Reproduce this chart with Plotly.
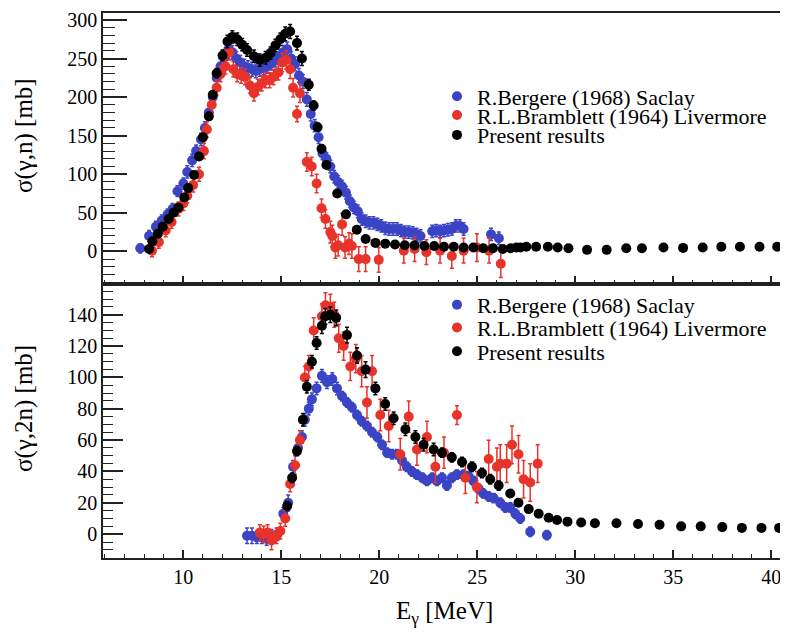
import plotly.graph_objects as go

# ---------------- data (E [MeV], sigma [mb], error [mb]) ----------------
top_bergere = [
    (7.8, 4, 6), (8.25, 20, 7), (8.6, 32, 7), (8.9, 40, 7), (9.2, 48, 7), (9.45, 55, 7),
    (9.7, 78, 7), (10.0, 88, 7), (10.2, 103, 8), (10.45, 118, 8), (10.65, 130, 8),
    (10.9, 145, 8), (11.1, 160, 8), (11.3, 180, 8), (11.5, 200, 8), (11.7, 225, 9),
    (11.9, 240, 9), (12.1, 252, 9), (12.3, 262, 9), (12.5, 258, 9), (12.7, 250, 9),
    (12.9, 245, 9), (13.1, 240, 9), (13.3, 238, 9), (13.5, 236, 9), (13.7, 234, 9),
    (13.9, 236, 9), (14.1, 238, 9), (14.3, 240, 9), (14.5, 244, 9), (14.7, 248, 9),
    (14.9, 253, 9), (15.1, 258, 9), (15.3, 262, 9), (15.5, 250, 9), (15.7, 243, 9),
    (15.9, 228, 9), (16.1, 220, 9), (16.3, 197, 9), (16.5, 178, 9), (16.7, 163, 8),
    (16.9, 148, 8), (17.1, 127, 8), (17.3, 120, 8), (17.5, 110, 8), (17.7, 97, 8),
    (17.9, 90, 8), (18.1, 84, 8), (18.3, 76, 8), (18.5, 65, 8), (18.7, 57, 8),
    (18.9, 52, 8), (19.1, 42, 8), (19.3, 39, 8), (19.5, 37, 8), (19.7, 37, 8),
    (19.9, 35, 8), (20.1, 33, 8), (20.3, 30, 8), (20.5, 29, 8), (20.7, 29, 8),
    (20.9, 29, 8), (21.1, 27, 8), (21.3, 25, 8), (21.5, 25, 8), (21.7, 24, 8),
    (21.9, 22, 8), (22.1, 20, 8), (22.7, 26, 8), (22.9, 27, 8), (23.1, 26, 8),
    (23.3, 27, 8), (23.5, 28, 8), (23.7, 29, 8), (23.9, 33, 8), (24.1, 33, 8),
    (24.3, 29, 8), (25.7, 22, 8), (26.1, 17, 8),
]

top_bramblett = [
    (8.4, 1, 8), (8.75, 12, 8), (9.1, 27, 8), (9.4, 38, 8), (9.75, 55, 9), (10.0, 62, 9),
    (10.2, 72, 9), (10.5, 86, 9), (10.8, 100, 9), (11.05, 130, 10), (11.2, 158, 10),
    (11.45, 190, 10), (11.7, 212, 10), (11.9, 230, 10), (12.15, 240, 10), (12.35, 258, 10),
    (12.55, 236, 10), (12.75, 230, 10), (12.95, 228, 10), (13.15, 226, 10), (13.4, 215, 10),
    (13.6, 205, 10), (13.8, 213, 10), (14.0, 218, 10), (14.2, 222, 10), (14.4, 222, 10),
    (14.6, 226, 10), (14.85, 232, 10), (15.05, 245, 12), (15.25, 248, 12), (15.45, 236, 12),
    (15.6, 212, 12), (15.8, 178, 10), (15.95, 205, 12), (16.3, 116, 12), (16.55, 110, 12),
    (16.8, 88, 12), (17.05, 56, 12), (17.25, 42, 12), (17.5, 25, 14), (17.6, 20, 14),
    (17.76, 5, 14), (17.9, 8, 14), (18.1, 35, 14), (18.25, 5, 14), (18.45, 10, 14),
    (18.6, 7, 16), (18.95, -10, 16), (19.3, -10, 16), (19.97, -11, 16), (21.25, 1, 16),
    (21.8, 3, 16), (22.4, -1, 16), (23.1, 1, 16), (23.7, -6, 16), (24.3, 1, 16),
    (24.98, 5, 18), (25.6, 1, 16), (26.2, -16, 18),
]

top_present = [
    (8.25, 3, 3), (8.42, 13, 3), (8.7, 23, 3), (8.95, 32, 3), (9.25, 42, 3), (9.5, 50, 3),
    (9.75, 57, 3), (10.05, 70, 4), (10.25, 82, 4), (10.55, 99, 4), (10.8, 123, 4),
    (11.0, 148, 5), (11.3, 175, 5), (11.5, 203, 5), (11.7, 231, 6), (12.0, 254, 7),
    (12.25, 272, 8), (12.5, 278, 8), (12.75, 275, 8), (13.0, 268, 8), (13.25, 261, 8),
    (13.6, 253, 8), (13.9, 248, 8), (14.2, 251, 8), (14.45, 257, 8), (14.7, 267, 8),
    (14.95, 275, 8), (15.2, 282, 9), (15.45, 285, 9), (15.8, 270, 9), (16.05, 250, 9),
    (16.4, 216, 7), (16.65, 189, 6), (16.85, 161, 5), (17.05, 133, 5), (17.3, 112, 4),
    (17.85, 75, 4), (18.3, 48, 3), (18.85, 28, 3), (19.3, 16, 2), (19.8, 11, 2),
    (20.3, 10, 2), (20.8, 9, 2), (21.3, 8, 2), (21.8, 8, 2), (22.3, 7, 2), (22.8, 7, 2),
    (23.3, 6, 2), (23.8, 6, 2), (24.3, 5, 2), (24.8, 5, 2), (25.3, 4, 2), (25.8, 4, 2),
    (26.3, 3, 2), (26.7, 4, 2), (27.0, 5, 2), (27.2, 5, 2), (27.5, 6, 2), (28.0, 6, 2),
    (28.6, 6, 2), (29.1, 5, 2), (29.65, 4, 2), (30.6, 2, 1), (31.6, 2, 1), (32.6, 4, 1),
    (33.4, 4, 1), (34.5, 5, 1), (35.5, 4.5, 1), (36.5, 5, 1), (37.45, 6, 1), (38.4, 6, 1),
    (39.4, 6, 1), (40.3, 6, 1),
]

bot_bergere = [
    (13.25, -1, 5), (13.5, -1, 5), (13.75, -2, 4), (14.0, -2, 4), (14.25, -3, 4), (14.5, -1, 4),
    (14.8, 0, 4), (15.1, 13, 4), (15.35, 20, 5), (15.6, 43, 4), (15.85, 55, 4), (16.05, 62, 4),
    (16.2, 73, 4), (16.4, 80, 4), (16.56, 86, 4), (16.8, 93, 4), (17.07, 101, 4), (17.33, 97, 4),
    (17.6, 99, 4), (17.84, 93, 4), (18.1, 88, 3), (18.35, 84, 3), (18.6, 81, 3), (18.86, 76, 3),
    (19.1, 72, 3), (19.37, 69, 3), (19.63, 65, 3), (19.9, 62, 3), (20.14, 57, 3), (20.4, 52, 3),
    (20.65, 51, 3), (20.9, 51, 3), (21.16, 47, 3), (21.4, 43, 3), (21.67, 40, 3), (21.92, 38, 3),
    (22.2, 36, 3), (22.43, 34, 3), (22.7, 36, 3), (22.94, 34, 3), (23.2, 36, 3), (23.45, 31, 3),
    (23.7, 36, 3), (23.96, 38, 3), (24.3, 38, 3), (24.56, 37, 3), (24.8, 34, 3), (25.07, 29, 3),
    (25.3, 26, 3), (25.58, 24, 3), (25.83, 23, 3), (26.17, 20, 3), (26.43, 17, 3), (26.68, 17, 3),
    (26.94, 13, 3), (27.19, 10, 3), (27.7, 1.5, 3), (28.55, -0.6, 3),
]

bot_bramblett = [
    (13.9, 1, 5), (14.1, 0, 5), (14.3, 1, 5), (14.5, -4, 6), (14.75, -1, 5), (14.95, 2, 5),
    (15.2, 10, 5), (15.45, 32, 5), (15.7, 44, 6), (15.95, 60, 6), (16.2, 100, 7), (16.4, 107, 7),
    (16.65, 130, 8), (17.07, 139, 8), (17.25, 146, 8), (17.5, 145, 8), (17.7, 140, 8),
    (17.93, 125, 9), (18.18, 120, 9), (18.52, 107, 9), (18.8, 112, 9), (19.1, 104, 10),
    (19.37, 84, 10), (19.63, 104, 10), (20.05, 76, 10), (20.48, 69, 10), (21.07, 51, 10),
    (21.5, 75, 10), (21.92, 54, 10), (22.43, 62, 10), (22.86, 43, 10), (23.3, 52, 10),
    (23.96, 76, 6), (24.39, 36, 10), (24.98, 30, 10), (25.58, 48, 12), (26.0, 43, 12),
    (26.17, 45, 12), (26.5, 45, 12), (26.77, 57, 12), (27.1, 51, 12), (27.36, 35, 12),
    (27.7, 33, 12), (28.08, 45, 12),
]

bot_present = [
    (15.3, 18, 3), (15.55, 36, 3), (15.8, 53, 3), (16.1, 73, 4), (16.3, 94, 4), (16.56, 110, 4),
    (16.8, 122, 4), (17.07, 133, 5), (17.25, 139, 5), (17.5, 140, 5), (17.8, 138, 5),
    (18.35, 127, 5), (18.86, 114, 5), (19.3, 105, 5), (19.8, 93, 4), (20.3, 83, 4),
    (20.73, 74, 4), (21.33, 67, 4), (21.84, 62, 4), (22.26, 57, 4), (22.77, 54, 4),
    (23.2, 52, 3), (23.7, 49, 3), (24.22, 46, 3), (24.73, 43, 3), (25.24, 39, 3),
    (25.66, 35, 3), (26.09, 31, 3), (26.68, 26, 2), (27.1, 20, 2), (27.62, 16, 2),
    (28.13, 13, 2), (28.64, 10.5, 2), (29.07, 9, 1), (29.6, 8, 1), (30.3, 7.5, 1),
    (31.0, 7, 1), (32.1, 7, 1), (33.2, 6.5, 1), (34.3, 6, 1), (35.4, 5, 1), (36.4, 5, 1),
    (37.5, 4.5, 1), (38.5, 4, 1), (39.5, 4, 1), (40.4, 4, 1),
]

names = ["R.Bergere (1968) Saclay", "R.L.Bramblett (1964) Livermore", "Present results"]
colors = ["#3a44c4", "#e8332b", "#000000"]

FONT = "Liberation Serif, Times New Roman, serif"

fig = go.Figure()

def add(series, name, color, xa, ya, legend):
    xs = [p[0] for p in series]
    ys = [p[1] for p in series]
    es = [p[2] for p in series]
    fig.add_trace(go.Scatter(
        x=xs, y=ys, mode="markers", name=name,
        marker=dict(symbol="circle", size=10, color=color),
        error_y=dict(type="data", array=es, visible=True, color=color,
                     thickness=1.5, width=2),
        xaxis=xa, yaxis=ya, legend=legend, showlegend=True,
    ))

for i, s in enumerate([top_bergere, top_bramblett, top_present]):
    add(s, names[i], colors[i], "x", "y", "legend" if i == 0 else f"legend{i+1}")
for i, s in enumerate([bot_bergere, bot_bramblett, bot_present]):
    add(s, names[i], colors[i], "x2", "y2", f"legend{i+4}")

# geometry: the page body adds an 8px margin, so the figure is 8px smaller
OFF = 8
W, H = 780, 630
L, R, T, B = 95, 3, 1, 80
PW, PH = W - L - R, H - T - B

def py2paper(py):  # py: pixel in the 788x638 window
    return (H - B - (py - OFF)) / PH

def px2paper(px):
    return (px - OFF - L) / PW

split = py2paper(282)

axis_common = dict(showgrid=False, zeroline=False, showline=True, linecolor="#222",
                   linewidth=1.5, mirror=True, ticks="inside", tickcolor="#222",
                   tickwidth=1.5, tickfont=dict(family=FONT, size=20, color="black"))

fig.update_layout(
    width=W, height=H,
    margin=dict(l=L, r=R, t=T, b=B),
    paper_bgcolor="white", plot_bgcolor="white",
    font=dict(family=FONT, color="black"),
    xaxis=dict(domain=[0, 1], anchor="y", range=[5.9, 40.7], matches="x2",
               showticklabels=False, dtick=5, tick0=0, ticklen=8,
               minor=dict(dtick=1, ticklen=4, ticks="inside", tickcolor="#222", tickwidth=1.2),
               **axis_common),
    yaxis=dict(domain=[split, 1], anchor="x", range=[-42.3, 309], dtick=50, tick0=0, ticklen=24,
               ticklabeloverflow="allow",
               minor=dict(dtick=10, ticklen=12, ticks="inside", tickcolor="#222", tickwidth=1.2),
               **axis_common),
    xaxis2=dict(domain=[0, 1], anchor="y2", range=[5.9, 40.7], dtick=5, tick0=0, ticklen=8,
                ticklabeloverflow="allow",
                minor=dict(dtick=1, ticklen=4, ticks="inside", tickcolor="#222", tickwidth=1.2),
                **axis_common),
    yaxis2=dict(domain=[0, split], anchor="x2", range=[-15.2, 159.6], dtick=20, tick0=0, ticklen=20,
                minor=dict(dtick=5, ticklen=10, ticks="inside", tickcolor="#222", tickwidth=1.2),
                **axis_common),
)

leg_x = px2paper(437)
rows = [93, 112, 132, 303, 326, 350]
keys = ["legend", "legend2", "legend3", "legend4", "legend5", "legend6"]
for k, r in zip(keys, rows):
    fig.update_layout({k: dict(x=leg_x, y=py2paper(r), xanchor="left", yanchor="middle",
                               xref="paper", yref="paper",
                               bgcolor="rgba(0,0,0,0)", borderwidth=0, itemwidth=30,
                               font=dict(family=FONT, size=22, color="black"))})

fig.add_annotation(text="σ(γ,n) [mb]", textangle=-90, xref="paper", yref="paper",
                   x=px2paper(24), y=py2paper(133), xanchor="center", yanchor="middle",
                   showarrow=False, font=dict(family=FONT, size=25, color="black"))
fig.add_annotation(text="σ(γ,2n) [mb]", textangle=-90, xref="paper", yref="paper",
                   x=px2paper(24), y=py2paper(408), xanchor="center", yanchor="middle",
                   showarrow=False, font=dict(family=FONT, size=25, color="black"))
fig.add_annotation(text="E<sub>γ</sub> [MeV]", xref="paper", yref="paper",
                   x=0.5, y=py2paper(613), xanchor="center", yanchor="middle",
                   showarrow=False, font=dict(family=FONT, size=25, color="black"))

fig.write_html("out.html")
